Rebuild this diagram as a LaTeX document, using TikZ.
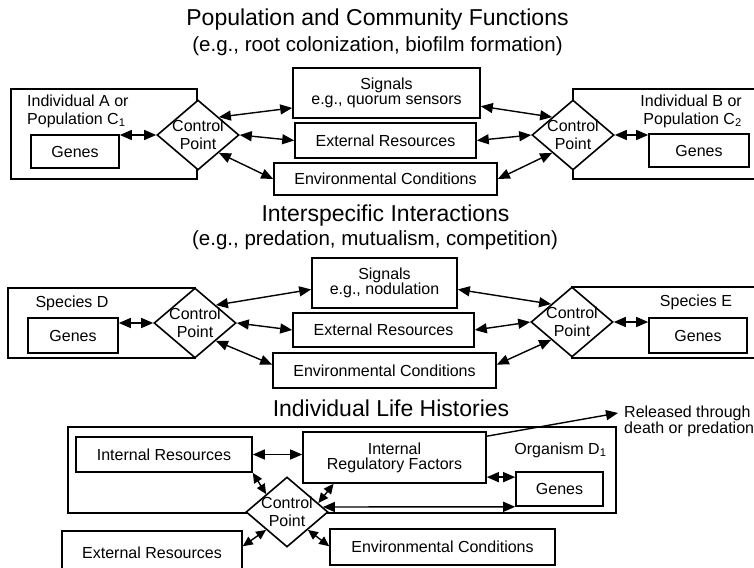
\documentclass[tikz,border=0pt]{standalone}
\usepackage{fontspec}
\setmainfont{Liberation Sans}
\usetikzlibrary{shapes.geometric,arrows.meta,calc}
\newcommand{\boxfont}{\fontsize{16}{18}\selectfont}
\newcommand{\headfont}{\fontsize{23}{26}\selectfont}
\newcommand{\subheadfont}{\fontsize{20.5}{23}\selectfont}
\newcommand{\ctrlpoint}[2]{\node[ctrl] (#1) at (#2) {};
  \node[ctrltext] (#1t) at (#1) {Control\\Point};}

\begin{document}
\begin{tikzpicture}[x=1pt,y=-1pt,
  frame/.style={draw,line width=1.6pt,inner sep=0pt},
  box/.style={draw,line width=1.6pt,fill=white,inner sep=0pt,align=center,font=\boxfont},
  ctrl/.style={diamond,draw,line width=1.6pt,fill=white,inner sep=0pt,minimum width=82pt,minimum height=70pt},
  ctrltext/.style={align=center,font=\boxfont,inner sep=0pt},
  plain/.style={font=\boxfont,inner sep=0pt},
  head/.style={font=\headfont,inner sep=0pt},
  subhead/.style={font=\subheadfont,inner sep=0pt},
  link/.style={{Triangle[length=12pt,width=10pt]}-{Triangle[length=12pt,width=10pt]},line width=1.4pt},
  shortlink/.style={{Triangle[length=10pt,width=9pt]}-{Triangle[length=10pt,width=9pt]},line width=1.4pt}]
  \useasboundingbox (0,0) rectangle (754,567);
  \clip (0,0) rectangle (754,567);

  % population and community functions
  \node[head] (popttl) at (377.5,20) {Population and Community Functions};
  \node[subhead] (popsub) at (377.5,46) {(e.g., root colonization, biofilm formation)};
  \node[frame,minimum width=186pt,minimum height=90pt] (popA) at (104,134) {};
  \node[frame,minimum width=197pt,minimum height=90pt] (popB) at (671.5,134) {};
  \ctrlpoint{cl1}{198,135}
  \ctrlpoint{cr1}{573,135}
  \node[plain,align=left,anchor=west] (indA) at (27,111) {Individual A or\\Population C\textsubscript{1}};
  \node[plain,align=right,anchor=east] (indB) at (742,111) {Individual B or\\Population C\textsubscript{2}};
  \node[box,minimum width=88pt,minimum height=33pt] (gl1) at (75,151.5) {Genes};
  \node[box,minimum width=100pt,minimum height=33pt] (gr1) at (699,150.5) {Genes};
  \node[box,minimum width=187pt,minimum height=50pt] (sig1) at (386.5,93) {Signals\\[-3pt]e.g., quorum sensors};
  \node[box,minimum width=181pt,minimum height=35pt] (ext1) at (385.5,140.5) {External Resources};
  \node[box,minimum width=223pt,minimum height=32pt] (env1) at (385.5,179) {Environmental Conditions};
  \draw[link] (gl1.east |- cl1.west) -- (cl1.west);
  \draw[link] (cl1.north east) -- (sig1.189);
  \draw[link] (cl1.east) -- (ext1.west);
  \draw[link] (cl1.south east) -- (env1.west);
  \draw[link] (sig1.-8) -- (cr1.north west);
  \draw[link] (ext1.east) -- (cr1.west);
  \draw[link] (env1.east) -- (cr1.south west);
  \draw[link] (cr1.east) -- (gr1.west |- cr1.east);

  % interspecific interactions
  \node[head] (intttl) at (385.5,216) {Interspecific Interactions};
  \node[subhead] (intsub) at (375,240) {(e.g., predation, mutualism, competition)};
  \node[frame,minimum width=187pt,minimum height=70pt] (spD) at (101.5,323) {};
  \node[frame,minimum width=198pt,minimum height=71pt] (spE) at (671,322.5) {};
  \ctrlpoint{cl2}{195,323}
  \ctrlpoint{cr2}{572,322}
  \node[plain] (spDt) at (72,303) {Species D};
  \node[plain] (spEt) at (696,302) {Species E};
  \node[box,minimum width=90pt,minimum height=35pt] (gl2) at (73,335.5) {Genes};
  \node[box,minimum width=98pt,minimum height=35pt] (gr2) at (698,335.5) {Genes};
  \node[box,minimum width=145pt,minimum height=50pt] (sig2) at (384.5,283) {Signals\\[-3pt]e.g., nodulation};
  \node[box,minimum width=181pt,minimum height=34pt] (ext2) at (383.5,330) {External Resources};
  \node[box,minimum width=223pt,minimum height=35pt] (env2) at (384.5,370.5) {Environmental Conditions};
  \draw[link] (gl2.east |- cl2.west) -- (cl2.west);
  \draw[link] (cl2.north east) -- (sig2.185);
  \draw[link] (cl2.east) -- (ext2.west);
  \draw[link] (cl2.south east) -- (env2.177);
  \draw[link] (sig2.-5) -- (cr2.north west);
  \draw[link] (ext2.east) -- (cr2.west);
  \draw[link] (env2.3) -- (cr2.south west);
  \draw[link] (cr2.east) -- (gr2.west |- cr2.east);

  % individual life histories
  \node[head] (lifttl) at (391,408) {Individual Life Histories};
  \node[frame,minimum width=548pt,minimum height=86pt] (orgD) at (342,470) {};
  \ctrlpoint{dm}{287,512}
  \node[plain] (orgDt) at (560.5,450) {Organism D\textsubscript{1}};
  \node[box,minimum width=176pt,minimum height=35pt] (ir) at (164,454.5) {Internal Resources};
  \node[box,minimum width=183pt,minimum height=51pt] (irf) at (394.5,457.5) {Internal\\[-3pt]Regulatory Factors};
  \node[box,minimum width=87pt,minimum height=34pt] (gb) at (559.5,489) {Genes};
  \node[box,minimum width=180pt,minimum height=44pt] (eb) at (152,553) {External Resources};
  \node[box,minimum width=225pt,minimum height=36pt] (eb2) at (442.5,547) {Environmental Conditions};
  \node[plain,align=left,anchor=west] (rel) at (624,421) {Released through\\[-2pt]death or predation};
  \draw[link] (ir.east) -- (ir.east -| irf.west);
  \draw[link] (gb.165) -- (gb.165 -| irf.east);
  \draw[shortlink] (ir.south east) -- (dm.north west);
  \draw[shortlink] ($(irf.south west)!0.17!(irf.south east)$) -- ($(dm.north)!0.75!(dm.east)$);
  \draw[shortlink] ($(eb.north east)+(0,16)$) -- (dm.south west);
  \draw[shortlink] (dm.south east) -- ($(eb2.north west)+(0,18)$);
  \draw[link] ($(dm.north)!0.86!(dm.east)$) -- (gb.south west);
  \draw[-{Triangle[length=12pt,width=10pt]},line width=1.4pt] ($(irf.north east)+(0,5)$) -- ($(rel.west)+(-6,-8)$);
\end{tikzpicture}
\end{document}
